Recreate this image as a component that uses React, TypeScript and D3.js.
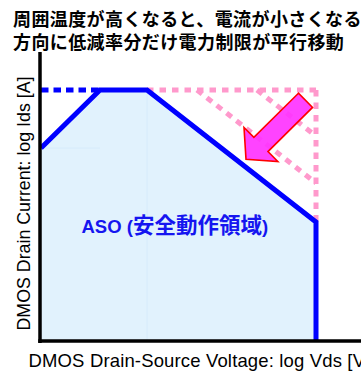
import React from "react";
import * as d3 from "d3";

// abstract units: log Vds on x, log Ids on y
const asoX = [0, 5.9, 10.6, 27.5, 27.5];
const asoY = [19.2, 25, 25, 11.8, 0];

const limitDottedX = [0, 5.9];
const limitDottedY = [25, 25];

// derated limits (pink dotted)
const deratedLines: [number, number][][] = [
    [[10.6, 25], [27.5, 25]],
    [[27.5, 25], [27.5, 11.8]],
    [[15.6, 25], [27.5, 15.7]],
    [[21.6, 25], [27.5, 20.4]],
];

const arrowFrom: [number, number] = [26.45, 23.97];
const arrowTo: [number, number] = [20.5, 18.07];

const titleLines = ["周囲温度が高くなると、電流が小さくなる", "方向に低減率分だけ電力制限が平行移動"];
const xLabel = "DMOS Drain-Source Voltage: log Vds [V]";
const yLabel = "DMOS Drain Current: log Ids [A]";

const App = () => {
    const width = 361
    const height = 372
    const x = d3.scaleLinear([0, 32], [41, 361]);
    const y = d3.scaleLinear([0, 29], [340, 50]);

    const pts: [number, number][] = asoX.map((d, i) => [d, asoY[i]]);
    const line = d3.line<[number, number]>(d => x(d[0]), d => y(d[1]));
    const area = d3.area<[number, number]>(d => x(d[0]), y(0), d => y(d[1]));

    // arrow polygon in pixels
    const ax0 = x(arrowFrom[0]), ay0 = y(arrowFrom[1]);
    const ax1 = x(arrowTo[0]), ay1 = y(arrowTo[1]);
    const len = Math.hypot(ax1 - ax0, ay1 - ay0);
    const dx = (ax1 - ax0) / len, dy = (ay1 - ay0) / len;
    const nx = -dy, ny = dx;
    const hl = 21, sw = 10, hw = 24;
    const neckX = ax1 - dx * hl, neckY = ay1 - dy * hl;
    const arrowPts = [
        [ax0 + nx * sw, ay0 + ny * sw],
        [neckX + nx * sw, neckY + ny * sw],
        [neckX + nx * hw, neckY + ny * hw],
        [ax1, ay1],
        [neckX - nx * hw, neckY - ny * hw],
        [neckX - nx * sw, neckY - ny * sw],
        [ax0 - nx * sw, ay0 - ny * sw],
    ].map(p => p.join(",")).join(" ");

    return (
        <svg width={width} height={height} style={{position: "absolute", left: 0, top: 0}}>
            <g fontFamily="'Noto Sans CJK JP', sans-serif" fontWeight="bold" fontSize={18} fill="#000">
                {titleLines.map((t, i) => (
                    <text key={i} x={13} y={25.5 + i * 23.2} letterSpacing={0.4}>{t}</text>
                ))}
            </g>
            <path d={area(pts.slice(0, 4).concat([[asoX[4], 0]])) as string} fill="#e1f2fd"/>
            <line x1={x(10.6)} x2={x(10.6)} y1={y(25)} y2={y(0)} stroke="#d3eafa" strokeWidth={0.8}/>
            <line x1={x(0)} x2={x(5.9)} y1={y(19.2)} y2={y(19.2)} stroke="#d3eafa" strokeWidth={0.8}/>
            <g stroke="#ff99cc" strokeWidth={5} strokeDasharray="6.5 6" fill="none">
                {deratedLines.map((l, i) => (
                    <path key={i} d={line(l) as string}/>
                ))}
            </g>
            <path d={line(limitDottedX.map((d, i) => [d, limitDottedY[i]])) as string}
                  stroke="#0000ff" strokeWidth={5} strokeDasharray="7.5 5" fill="none"/>
            <path d={line(pts) as string} stroke="#0000ff" strokeWidth={5} fill="none"/>
            <polygon points={arrowPts} fill="#ff33ff" fillOpacity={0.92} stroke="#ff0000" strokeWidth={1.6}/>
            <line x1={x(0) - 1} x2={x(0) - 1} y1={y(29) + 2} y2={y(0) + 3} stroke="#000" strokeWidth={3.5}/>
            <line x1={x(0) - 2.75} x2={x(32)} y1={y(0) + 1} y2={y(0) + 1} stroke="#000" strokeWidth={3.5}/>
            <text x={81.5} y={233} fill="#1515f0" fontWeight="bold">
                <tspan fontFamily="'Liberation Sans', Arial, sans-serif" fontSize={18.5}>ASO (</tspan>
                <tspan fontFamily="'Noto Sans CJK JP', sans-serif" fontSize={21.5}>安全動作領域</tspan>
                <tspan fontFamily="'Liberation Sans', Arial, sans-serif" fontSize={18.5}>)</tspan>
            </text>
            <g fontFamily="'Liberation Sans', Arial, sans-serif" fill="#000">
                <text x={28.5} y={366.5} fontSize={18.5} letterSpacing={0.15}>{xLabel}</text>
                <text transform="translate(29.5,203.5) rotate(-90)" textAnchor="middle" fontSize={17.8}>{yLabel}</text>
            </g>
        </svg>
    )
}

export default App;
